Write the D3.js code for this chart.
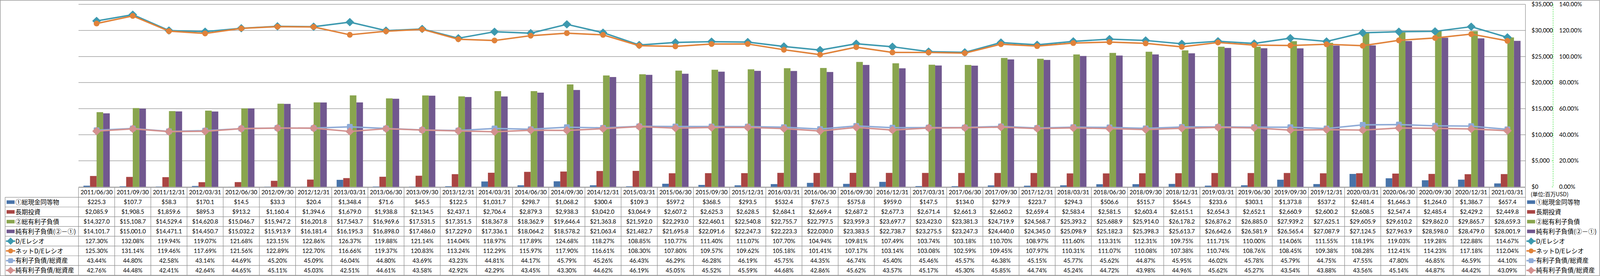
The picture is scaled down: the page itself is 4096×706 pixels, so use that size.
<!DOCTYPE html>
<html>
<head>
<meta charset="utf-8">
<script src="https://cdn.jsdelivr.net/npm/d3@7"></script>
<style>
  body { margin: 0; background: #fff; }
  svg { display: block; }
</style>
</head>
<body>
<svg id="chart"></svg>
<script>
// quarter-end dates (data table header)
const dates = [
  "2011/06/30", "2011/09/30", "2011/12/31",
  "2012/03/31", "2012/06/30", "2012/09/30", "2012/12/31",
  "2013/03/31", "2013/06/30", "2013/09/30", "2013/12/31",
  "2014/03/31", "2014/06/30", "2014/09/30", "2014/12/31",
  "2015/03/31", "2015/06/30", "2015/09/30", "2015/12/31",
  "2016/03/31", "2016/06/30", "2016/09/30", "2016/12/31",
  "2017/03/31", "2017/06/30", "2017/09/30", "2017/12/31",
  "2018/03/31", "2018/06/30", "2018/09/30", "2018/12/31",
  "2019/03/31", "2019/06/30", "2019/09/30", "2019/12/31",
  "2020/03/31", "2020/06/30", "2020/09/30", "2020/12/31",
  "2021/03/31"
];

// USD millions
const cash = [225.3, 107.7, 58.3, 170.1, 14.5, 33.3, 20.4, 1348.4, 71.6, 45.5, 122.5,
  1031.7, 298.7, 1068.2, 300.4, 109.3, 597.2, 368.5, 293.5, 532.4, 767.5, 575.8, 959.0,
  147.5, 134.0, 279.9, 223.7, 294.3, 506.6, 515.7, 564.5, 233.6, 303.1, 1373.8, 537.2,
  2481.4, 1646.3, 1264.0, 1386.7, 657.4];
const longInvest = [2085.9, 1908.5, 1859.6, 895.3, 913.2, 1160.4, 1394.6, 1679.0, 1938.8,
  2134.5, 2437.1, 2706.4, 2879.3, 2938.3, 3042.0, 3064.9, 2607.2, 2625.3, 2628.5, 2684.1,
  2669.4, 2687.2, 2677.3, 2671.4, 2661.3, 2660.2, 2659.4, 2583.4, 2581.5, 2603.4, 2615.1,
  2654.3, 2652.1, 2660.9, 2600.2, 2608.5, 2547.4, 2485.4, 2429.2, 2449.8];
const debt = [14327.0, 15108.7, 14529.4, 14620.8, 15046.7, 15947.2, 16201.8, 17543.7,
  16969.6, 17531.5, 17351.5, 18367.8, 18362.9, 19646.4, 21363.8, 21592.0, 22293.0, 22460.1,
  22540.8, 22755.7, 22797.5, 23959.3, 23697.7, 23423.0, 23381.3, 24719.9, 24568.7, 25393.2,
  25688.9, 25914.0, 26178.2, 26876.2, 26885.0, 27939.2, 27625.1, 29605.9, 29610.2, 29862.0,
  29865.7, 28659.3];
const netDebt = [14101.7, 15001.0, 14471.1, 14450.7, 15032.2, 15913.9, 16181.4, 16195.3,
  16898.0, 17486.0, 17229.0, 17336.1, 18064.2, 18578.2, 21063.4, 21482.7, 21695.8, 22091.6,
  22247.3, 22223.3, 22030.0, 23383.5, 22738.7, 23275.5, 23247.3, 24440.0, 24345.0, 25098.9,
  25182.3, 25398.3, 25613.7, 26642.6, 26581.9, 26565.4, 27087.9, 27124.5, 27963.9, 28598.0,
  28479.0, 28001.9];

// percent
const deRatio = [127.30, 132.08, 119.94, 119.07, 121.68, 123.15, 122.86, 126.37, 119.88,
  121.14, 114.04, 118.97, 117.89, 124.68, 118.27, 108.85, 110.77, 111.40, 111.07, 107.70,
  104.94, 109.81, 107.49, 103.74, 103.18, 110.70, 108.97, 111.60, 113.31, 112.31, 109.75,
  111.71, 110.00, 114.06, 111.55, 118.19, 119.03, 119.28, 122.88, 114.67];
const netDeRatio = [125.30, 131.14, 119.46, 117.69, 121.56, 122.89, 122.70, 116.66, 119.37,
  120.83, 113.24, 112.29, 115.97, 117.90, 116.61, 108.30, 107.80, 109.57, 109.62, 105.18,
  101.41, 107.17, 103.14, 103.08, 102.59, 109.45, 107.97, 110.31, 111.07, 110.08, 107.38,
  110.74, 108.76, 108.45, 109.38, 108.28, 112.41, 114.23, 117.18, 112.04];
const debtToAssets = [43.44, 44.80, 42.58, 43.14, 44.69, 45.20, 45.09, 46.04, 44.80, 43.69,
  43.23, 44.81, 44.17, 45.79, 45.26, 46.43, 46.29, 46.28, 46.19, 45.75, 44.35, 46.74, 45.40,
  45.46, 45.57, 46.38, 45.15, 45.77, 45.62, 44.87, 45.95, 46.02, 45.78, 45.79, 44.75, 47.55,
  47.80, 46.85, 46.59, 44.10];
const netDebtToAssets = [42.76, 44.48, 42.41, 42.64, 44.65, 45.11, 45.03, 42.51, 44.61,
  43.58, 42.92, 42.29, 43.45, 43.30, 44.62, 46.19, 45.05, 45.52, 45.59, 44.68, 42.86, 45.62,
  43.57, 45.17, 45.30, 45.85, 44.74, 45.24, 44.72, 43.98, 44.96, 45.62, 45.27, 43.54, 43.88,
  43.56, 45.14, 44.87, 44.42, 43.09];

const valueTicks = [0, 5000, 10000, 15000, 20000, 25000, 30000, 35000];
const pctTicks = [0, 0.2, 0.4, 0.6, 0.8, 1.0, 1.2, 1.4];
const unitLabel = "(単位:百万USD)";

const barSeries = [
  { name: "①総現金同等物", values: cash, color: "#4873a9" },
  { name: "長期投資", values: longInvest, color: "#a94543" },
  { name: "②総有利子負債", values: debt, color: "#89a54e" },
  { name: "純有利子負債(②－①)", values: netDebt, color: "#71588f" },
];
const lineSeries = [
  { name: "D/Eレシオ", values: deRatio, color: "#3d99af", marker: "diamond" },
  { name: "ネットD/Eレシオ", values: netDeRatio, color: "#e0823a", marker: "circle" },
  { name: "有利子負債/総資産", values: debtToAssets, color: "#8eaad6", marker: "square" },
  { name: "純有利子負債/総資産", values: netDebtToAssets, color: "#d3918f", marker: "diamond" },
];

// everything is laid out in the reference's pixel space and scaled by the viewBox
const W = 4981, H = 858;
const plot = { left: 244.4, right: 4749, top: 13.3, bottom: 581 };
const table = { header: 583, firstRow: 613.3, rowH: 30.34, labelLeft: 16 };
const numFont = "Lato, 'Noto Sans CJK JP', sans-serif";
const jpFont = "'Noto Sans CJK JP', sans-serif";
const gridColor = "#8c8c8c";

const svg = d3.select("#chart")
  .attr("width", 4096)
  .attr("height", 706)
  .attr("viewBox", `0 0 ${W} ${H}`);

svg.append("rect")
  .attr("x", 0.75).attr("y", 0.75)
  .attr("width", W - 2).attr("height", H - 1.5)
  .attr("fill", "#fff").attr("stroke", "#868686").attr("stroke-width", 1.5);

const x = d3.scaleBand().domain(dates).range([plot.left, plot.right]).padding(0);
const bw = x.bandwidth();
const xSub = d3.scaleBand()
  .domain(barSeries.map((s) => s.name))
  .range([bw * 0.136, bw * 0.864]);
const yVal = d3.scaleLinear().domain([0, 35000]).range([plot.bottom, plot.top]);
const yPct = d3.scaleLinear().domain([0, 1.4]).range([plot.bottom, plot.top]);

// gridlines
svg.append("g")
  .selectAll("line")
  .data(valueTicks)
  .join("line")
  .attr("x1", plot.left).attr("x2", plot.right)
  .attr("y1", (d) => yVal(d)).attr("y2", (d) => yVal(d))
  .attr("stroke", gridColor).attr("stroke-width", 1.5);

svg.append("line")
  .attr("x1", plot.right).attr("x2", plot.right)
  .attr("y1", plot.top).attr("y2", plot.bottom)
  .attr("stroke", gridColor).attr("stroke-width", 1.5);

// bars
const barLayer = svg.append("g");
barSeries.forEach((s) => {
  barLayer.append("g")
    .selectAll("rect")
    .data(s.values)
    .join("rect")
    .attr("x", (d, i) => x(dates[i]) + xSub(s.name))
    .attr("width", xSub.bandwidth())
    .attr("y", (d) => yVal(d))
    .attr("height", (d) => plot.bottom - yVal(d))
    .attr("fill", s.color);
});

function drawMarker(g, type, cx, cy, color, scale = 1) {
  if (type === "diamond") {
    const hw = 12.5 * scale, hh = 12 * scale;
    g.append("path")
      .attr("d", `M${cx},${cy - hh}L${cx + hw},${cy}L${cx},${cy + hh}L${cx - hw},${cy}Z`)
      .attr("fill", color).attr("stroke", color).attr("stroke-width", 1.5)
      .attr("stroke-linejoin", "round");
  } else if (type === "circle") {
    g.append("circle").attr("cx", cx).attr("cy", cy).attr("r", 9 * scale).attr("fill", color);
  } else {
    const s = 18 * scale;
    g.append("rect")
      .attr("x", cx - s / 2).attr("y", cy - s / 2)
      .attr("width", s).attr("height", s).attr("rx", 3)
      .attr("fill", color);
  }
}

// lines
const line = d3.line()
  .x((d, i) => x(dates[i]) + bw / 2)
  .y((d) => yPct(d / 100));

const lineLayer = svg.append("g");
lineSeries.forEach((s) => {
  const g = lineLayer.append("g");
  g.append("path")
    .attr("d", line(s.values))
    .attr("fill", "none")
    .attr("stroke", s.color)
    .attr("stroke-width", 4.5)
    .attr("stroke-linejoin", "round");
  s.values.forEach((v, i) => drawMarker(g, s.marker, x(dates[i]) + bw / 2, yPct(v / 100), s.color));
});

// axes (both on the right side)
const axisG = svg.append("g");
axisG.selectAll("text.val")
  .data(valueTicks)
  .join("text")
  .attr("class", "val")
  .attr("x", 4768)
  .attr("y", (d) => yVal(d))
  .attr("dy", "0.35em")
  .attr("font-family", numFont).attr("font-size", 18)
  .text((d) => d3.format("$,")(d));

axisG.selectAll("text.pct")
  .data(pctTicks)
  .join("text")
  .attr("class", "pct")
  .attr("x", 4854)
  .attr("y", (d) => yPct(d))
  .attr("dy", "0.35em")
  .attr("font-family", numFont).attr("font-size", 18)
  .text((d) => d3.format(".2%")(d));

axisG.append("line")
  .attr("x1", 4835).attr("x2", 4835)
  .attr("y1", plot.top).attr("y2", plot.bottom)
  .attr("stroke", "#22dd22").attr("stroke-width", 1.3).attr("stroke-dasharray", "4,3");
axisG.selectAll("line.tick")
  .data(pctTicks)
  .join("line")
  .attr("class", "tick")
  .attr("x1", 4831).attr("x2", 4835)
  .attr("y1", (d) => yPct(d)).attr("y2", (d) => yPct(d))
  .attr("stroke", "#22dd22").attr("stroke-width", 1.3);

svg.append("text")
  .attr("x", 4765).attr("y", 604)
  .attr("dy", "0.35em")
  .attr("font-family", jpFont).attr("font-size", 17)
  .text(unitLabel);

// data table
const tableG = svg.append("g");
const rows = [
  ...barSeries.map((s) => ({ ...s, kind: "bar", fmt: (v) => "$" + d3.format(",.1f")(v) })),
  ...lineSeries.map((s) => ({ ...s, kind: "line", fmt: (v) => d3.format(".2f")(v) + "%" })),
];
const rowY = (i) => table.firstRow + i * table.rowH;
const tableBottom = rowY(rows.length);
const border = { stroke: gridColor, width: 1.5 };

// horizontal rules
tableG.append("line")
  .attr("x1", plot.left).attr("x2", plot.right)
  .attr("y1", table.header).attr("y2", table.header)
  .attr("stroke", border.stroke).attr("stroke-width", border.width);
d3.range(rows.length + 1).forEach((i) => {
  tableG.append("line")
    .attr("x1", table.labelLeft).attr("x2", plot.right)
    .attr("y1", rowY(i)).attr("y2", rowY(i))
    .attr("stroke", border.stroke).attr("stroke-width", border.width);
});
// vertical rules
tableG.append("line")
  .attr("x1", table.labelLeft).attr("x2", table.labelLeft)
  .attr("y1", table.firstRow).attr("y2", tableBottom)
  .attr("stroke", border.stroke).attr("stroke-width", border.width);
tableG.selectAll("line.col")
  .data([...dates.map((d) => x(d)), plot.right])
  .join("line")
  .attr("class", "col")
  .attr("x1", (d) => d).attr("x2", (d) => d)
  .attr("y1", table.header).attr("y2", tableBottom)
  .attr("stroke", border.stroke).attr("stroke-width", border.width);

// header
tableG.selectAll("text.date")
  .data(dates)
  .join("text")
  .attr("class", "date")
  .attr("x", (d) => x(d) + bw / 2)
  .attr("y", (table.header + table.firstRow) / 2)
  .attr("dy", "0.35em")
  .attr("text-anchor", "middle")
  .attr("font-family", numFont).attr("font-size", 18)
  .text((d) => d);

function legendKey(g, row, x0, cy) {
  if (row.kind === "bar") {
    g.append("rect")
      .attr("x", x0).attr("y", cy - 5.5)
      .attr("width", 25).attr("height", 11)
      .attr("fill", row.color);
  } else {
    g.append("line")
      .attr("x1", x0 - 2).attr("x2", x0 + 27)
      .attr("y1", cy).attr("y2", cy)
      .attr("stroke", row.color).attr("stroke-width", 4.5);
    drawMarker(g, row.marker, x0 + 12.5, cy, row.color, 0.85);
  }
}

// squeeze a label into the width the row-header column leaves
function fitText(sel, maxW) {
  const node = sel.node();
  const w = node.getComputedTextLength();
  if (w > maxW) sel.attr("textLength", maxW).attr("lengthAdjust", "spacingAndGlyphs");
}

rows.forEach((row, i) => {
  const cy = rowY(i) + table.rowH / 2;
  legendKey(tableG, row, 20.5, cy);
  tableG.append("text")
    .attr("x", 48).attr("y", cy).attr("dy", "0.36em")
    .attr("font-family", jpFont).attr("font-size", 19.5)
    .text(row.name)
    .call(fitText, plot.left - 50);

  tableG.append("g")
    .selectAll("text")
    .data(row.values)
    .join("text")
    .attr("x", (d, j) => x(dates[j]) + bw / 2)
    .attr("y", cy)
    .attr("dy", "0.35em")
    .attr("text-anchor", "middle")
    .attr("font-family", numFont).attr("font-size", 18)
    .text((d) => row.fmt(d));

  // chart legend on the right of the table
  legendKey(tableG, row, 4754, cy);
  tableG.append("text")
    .attr("x", 4782).attr("y", cy).attr("dy", "0.36em")
    .attr("font-family", jpFont).attr("font-size", 19.5)
    .text(row.name)
    .call(fitText, W - 4784);
});
</script>
</body>
</html>
